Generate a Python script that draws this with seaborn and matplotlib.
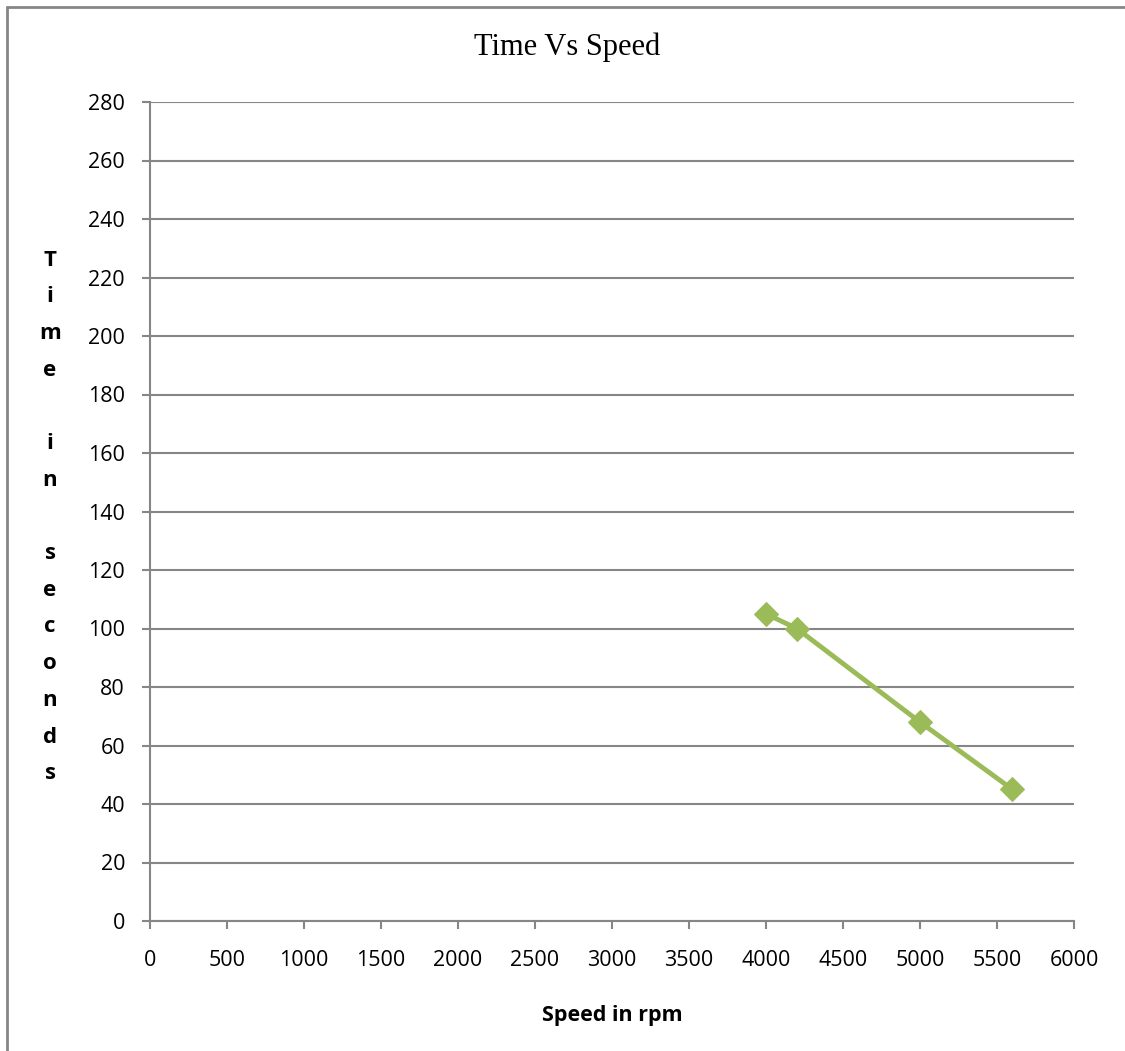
import matplotlib
matplotlib.use("Agg")
import matplotlib.pyplot as plt
from matplotlib.lines import Line2D
import seaborn as sns
import pandas as pd

# ---- data ----
speed_rpm = [4000, 4200, 5000, 5600]
time_s = [105, 100, 68, 45]
x_ticks = [0, 500, 1000, 1500, 2000, 2500, 3000, 3500, 4000, 4500, 5000, 5500, 6000]
y_ticks = [0, 20, 40, 60, 80, 100, 120, 140, 160, 180, 200, 220, 240, 260, 280]
title_text = "Time Vs Speed"
x_label = "Speed in rpm"
y_label = "Time in seconds"

df = pd.DataFrame({"speed": speed_rpm, "time": time_s})

sns.set_style("white")
plt.rcParams["font.family"] = ["Open Sans", "DejaVu Sans"]
plt.rcParams["text.color"] = "black"
plt.rcParams["axes.labelcolor"] = "black"
plt.rcParams["xtick.color"] = "black"
plt.rcParams["ytick.color"] = "black"

W, H = 1125, 1051
fig = plt.figure(figsize=(W / 100, H / 100), dpi=100)
ax = fig.add_axes([150 / W, 1 - 921 / H, 924 / W, 819 / H])

grey = "#868686"
green = "#9BBB59"

sns.lineplot(data=df, x="speed", y="time", ax=ax, color=green, linewidth=3.5,
             marker="D", markersize=12, markeredgecolor=green, markerfacecolor=green,
             zorder=5, clip_on=False)

ax.set_xlim(0, 6000)
ax.set_ylim(0, 280)
ax.set_xticks(x_ticks)
ax.set_yticks(y_ticks)
ax.set_xticklabels([str(v) for v in x_ticks])
ax.set_yticklabels([str(v) for v in y_ticks])
ax.yaxis.grid(True, color=grey, linewidth=1.5)
ax.xaxis.grid(False)
ax.set_axisbelow(True)

for s in ["top", "right"]:
    ax.spines[s].set_visible(False)
for s in ["left", "bottom"]:
    ax.spines[s].set_color(grey)
    ax.spines[s].set_linewidth(1.5)

ax.tick_params(axis="both", which="major", direction="out", length=6, width=1.5,
               color=grey, labelsize=15.5, labelcolor="black")
ax.tick_params(axis="y", pad=12, left=True)
ax.tick_params(axis="x", pad=15, bottom=True)

ax.set_xlabel(x_label, fontsize=15.5, fontweight="bold", color="black")
ax.xaxis.set_label_coords(0.5, (921 - 1015) / 819)
ax.xaxis.label.set_va("center")
ax.set_ylabel("")

# title
fig.text(567 / W, 1 - 47 / H, title_text, ha="center", va="center",
         fontsize=22, family="Liberation Serif", color="black")

# vertical stacked y label
y0, step = 260, 36.7
for i, ch in enumerate(y_label):
    if ch.strip():
        fig.text(50 / W, 1 - (y0 + i * step) / H, ch, ha="center", va="center",
                 fontsize=16, fontweight="bold", color="black")

# outer border (left and top only visible)
fig.add_artist(Line2D([6.5 / W, 6.5 / W], [0, 1 - 7 / H], transform=fig.transFigure,
                      color=grey, linewidth=2))
fig.add_artist(Line2D([6.5 / W, 1], [1 - 7 / H, 1 - 7 / H], transform=fig.transFigure,
                      color=grey, linewidth=2))

fig.savefig("out.png", dpi=100, facecolor="white")
